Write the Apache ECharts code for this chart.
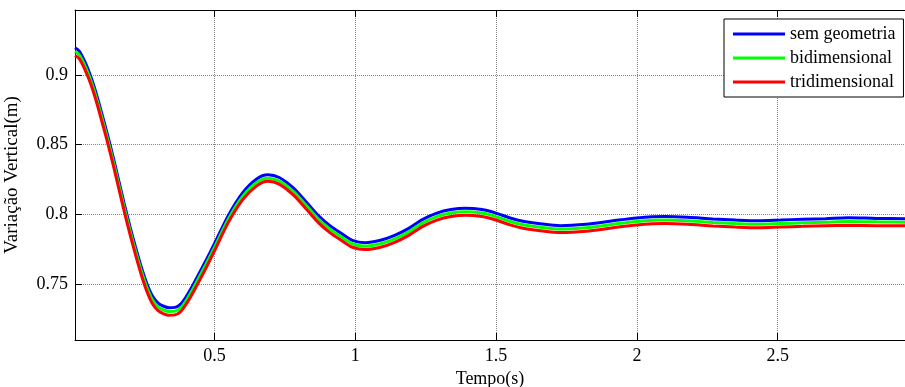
<!DOCTYPE html>
<html>
<head>
<meta charset="utf-8">
<title>Variação Vertical</title>
<script src="https://cdn.jsdelivr.net/npm/echarts@6/dist/echarts.min.js"></script>
<style>
  html, body { margin: 0; padding: 0; background: #fff; }
  #chart { width: 905px; height: 387px; }
</style>
</head>
<body>
<div id="chart"></div>
<script>
// tempo (s)
const times = [0.005, 0.02, 0.04, 0.06, 0.08, 0.10, 0.12, 0.14, 0.16, 0.18,
  0.20, 0.22, 0.24, 0.26, 0.28, 0.30, 0.32, 0.34, 0.36, 0.38,
  0.40, 0.42, 0.44, 0.47, 0.50, 0.55, 0.60, 0.65, 0.69, 0.73,
  0.78, 0.83, 0.87, 0.91, 0.95, 0.99, 1.035, 1.09, 1.14, 1.19,
  1.24, 1.29, 1.34, 1.39, 1.45, 1.50, 1.55, 1.60, 1.65, 1.73,
  1.82, 1.91, 2.00, 2.10, 2.18, 2.27, 2.35, 2.43, 2.51, 2.59,
  2.67, 2.75, 2.85, 2.952];

const semGeometria = [0.9195, 0.9172, 0.9095, 0.8995, 0.887, 0.8725, 0.8575, 0.8415, 0.8245, 0.8075,
  0.7915, 0.7765, 0.7625, 0.7505, 0.7415, 0.7365, 0.7342, 0.7332, 0.7334, 0.7357,
  0.7412, 0.748, 0.7555, 0.767, 0.779, 0.7995, 0.8155, 0.8255, 0.8285, 0.8265,
  0.819, 0.808, 0.799, 0.792, 0.7865, 0.7815, 0.7798, 0.7815, 0.785, 0.790,
  0.7965, 0.801, 0.8035, 0.8045, 0.8035, 0.801, 0.7975, 0.795, 0.7935, 0.792,
  0.793, 0.7953, 0.7975, 0.7985, 0.798, 0.7968, 0.796, 0.7955, 0.796, 0.7966,
  0.797, 0.7977, 0.7972, 0.797];

const bidimensional = [0.9168, 0.9145, 0.9068, 0.8968, 0.8843, 0.8698, 0.8548, 0.8388, 0.8218, 0.8048,
  0.7888, 0.7738, 0.7598, 0.7478, 0.7388, 0.7338, 0.7315, 0.7305, 0.7307, 0.733,
  0.7385, 0.7453, 0.7528, 0.7643, 0.7763, 0.797, 0.813, 0.823, 0.826, 0.824,
  0.8165, 0.8055, 0.7965, 0.7895, 0.784, 0.779, 0.7772, 0.779, 0.7825, 0.7875,
  0.794, 0.7985, 0.801, 0.802, 0.801, 0.7985, 0.795, 0.7925, 0.791, 0.7895,
  0.7905, 0.7928, 0.795, 0.796, 0.7955, 0.7943, 0.7935, 0.793, 0.7935, 0.794,
  0.7945, 0.795, 0.7947, 0.7945];

const tridimensional = [0.914, 0.9117, 0.904, 0.894, 0.8815, 0.867, 0.852, 0.836, 0.819, 0.802,
  0.786, 0.771, 0.757, 0.745, 0.736, 0.731, 0.7288, 0.7278, 0.728, 0.7303,
  0.7358, 0.7426, 0.750, 0.7615, 0.7738, 0.7945, 0.8105, 0.8205, 0.8238, 0.8218,
  0.814, 0.803, 0.794, 0.787, 0.7815, 0.7765, 0.7748, 0.7765, 0.780, 0.785,
  0.7915, 0.796, 0.7985, 0.7995, 0.7985, 0.796, 0.7925, 0.790, 0.7885, 0.787,
  0.788, 0.7903, 0.7925, 0.7935, 0.793, 0.7918, 0.791, 0.7905, 0.791, 0.7915,
  0.792, 0.7922, 0.792, 0.792];

const seriesNames = ['sem geometria', 'bidimensional', 'tridimensional'];
const seriesColors = ['#0000ff', '#00ff00', '#ff0000'];

const font = 'Liberation Serif, Times New Roman, serif';
const chart = echarts.init(document.getElementById('chart'));

const pairs = vals => times.map((t, i) => [t, vals[i]]);

chart.setOption({
  animation: false,
  backgroundColor: '#fff',
  grid: {left: 75, top: 10, right: 0, bottom: 47, outerBoundsMode: 'none', containLabel: false},
  legend: {
    orient: 'vertical',
    left: 724,
    top: 19,
    padding: [6, 8, 6, 9],
    itemGap: 6,
    itemWidth: 52,
    itemHeight: 3,
    icon: 'rect',
    borderColor: '#000',
    borderWidth: 1,
    backgroundColor: '#fff',
    textStyle: {fontFamily: font, fontSize: 18, color: '#000'},
    data: seriesNames
  },
  xAxis: [
    {
      type: 'value',
      min: 0.005,
      max: 2.952,
      name: 'Tempo(s)',
      nameLocation: 'middle',
      nameGap: 30,
      nameTextStyle: {fontFamily: font, fontSize: 18, color: '#000'},
      axisLine: {lineStyle: {color: '#000', width: 1}},
      axisTick: {inside: true, length: 7, lineStyle: {color: '#000'}},
      axisLabel: {fontFamily: font, fontSize: 18, color: '#000', margin: 7,
        showMinLabel: false, showMaxLabel: false},
      splitLine: {show: true, lineStyle: {color: '#888', type: [1, 1], width: 1}}
    },
    {
      type: 'value',
      position: 'top',
      min: 0.005,
      max: 2.952,
      axisLine: {show: true, lineStyle: {color: '#000', width: 1}},
      axisTick: {show: true, inside: true, length: 7, lineStyle: {color: '#000'}},
      axisLabel: {show: false},
      splitLine: {show: false}
    }
  ],
  yAxis: {
    type: 'value',
    min: 0.71,
    max: 0.9466,
    name: 'Variação Vertical(m)',
    nameLocation: 'middle',
    nameGap: 53,
    nameTextStyle: {fontFamily: font, fontSize: 19, color: '#000'},
    axisLine: {show: true, lineStyle: {color: '#000', width: 1}},
    axisTick: {show: true, inside: true, length: 7, lineStyle: {color: '#000'}},
    axisLabel: {fontFamily: font, fontSize: 18, color: '#000', margin: 7,
      showMinLabel: false, showMaxLabel: false},
    splitLine: {show: true, lineStyle: {color: '#888', type: [1, 1], width: 1}}
  },
  series: [semGeometria, bidimensional, tridimensional].map((vals, i) => ({
    name: seriesNames[i],
    type: 'line',
    xAxisIndex: 0,
    data: pairs(vals),
    smooth: 0.3,
    showSymbol: false,
    color: seriesColors[i],
    lineStyle: {color: seriesColors[i], width: 3}
  }))
});
</script>
</body>
</html>
